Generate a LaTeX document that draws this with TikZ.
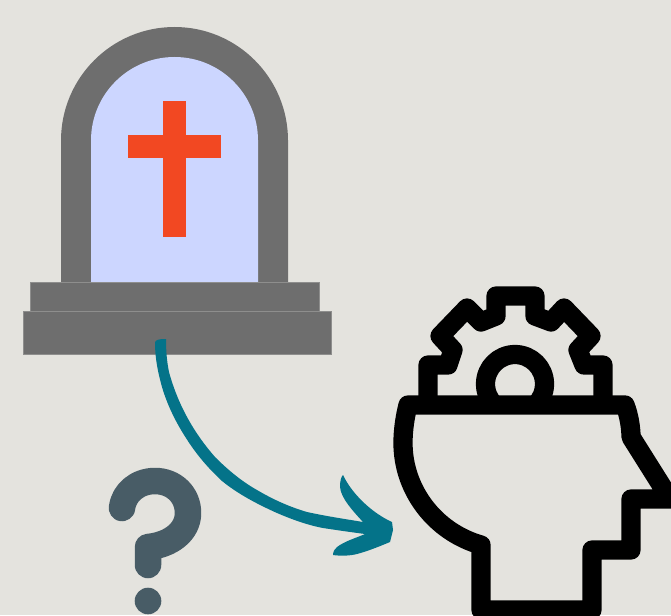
\documentclass[tikz,border=0pt]{standalone}
\usepackage{tikz}
\usetikzlibrary{positioning}
\definecolor{paper}{HTML}{E4E3DE}
\definecolor{stone}{HTML}{6E6E6E}
\definecolor{stoneedge}{HTML}{8E8E8D}
\definecolor{slab}{HTML}{CCD6FF}
\definecolor{crossred}{HTML}{F24822}
\definecolor{arrowteal}{HTML}{047389}
\definecolor{markgrey}{HTML}{485C66}
\tikzset{
	outline/.style={draw=black, line width=0.385cm, line join=round, line cap=round},
	qmark/.style={draw=markgrey, line width=0.53cm, line join=round, line cap=round},
	tier/.style={fill=stone, draw=stoneedge, line width=0.012cm}
}

\begin{document}
\begin{tikzpicture}[x=0.02cm, y=-0.02cm]
	% Background
	\fill[paper] (0,0) rectangle (671,615);
	\useasboundingbox (0,0) rectangle (671,615);

	% Draw the gravestone
	\begin{scope}
		\fill[stone] (61,282) -- (61,140.5) .. controls (61,77.8) and (111.8,27) .. (174.5,27) .. controls (237.2,27) and (288,77.8) .. (288,140.5) -- (288,282) -- cycle;
		\fill[slab] (91,282) -- (91,140.5) .. controls (91,94.4) and (128.4,57) .. (174.5,57) .. controls (220.6,57) and (258,94.4) .. (258,140.5) -- (258,282) -- cycle;
		\filldraw[tier] (30.5,282) rectangle (319,311);
		\filldraw[tier] (23,311) rectangle (331,354.5);

		% Draw the cross
		\fill[crossred] (163,101) rectangle (186,237);
		\fill[crossred] (128,135) rectangle (221,158);
	\end{scope}

	% Draw the curved arrow
	\coordinate (arrowstart) at (155,343);
	\coordinate (arrowtip) at (393,530);
	\fill[arrowteal] (arrowstart) .. controls (155,340) and (158,339) .. (166,339)
		.. controls (166,352) and (167,362) .. (169,372)
		.. controls (178,405) and (194,433) .. (215,457)
		.. controls (227,469) and (241,481) .. (257,490)
		.. controls (274,500) and (290,507) .. (307,512)
		.. controls (325,516) and (345,519) .. (363,522)
		.. controls (352,510) and (341,498) .. (340,487)
		.. controls (340,481) and (341,477) .. (343,475)
		.. controls (352,494) and (372,513) .. (392,522)
		-- (arrowtip) -- (390,542)
		.. controls (378,547) and (368,551) .. (357,554)
		.. controls (349,556) and (340,556) .. (333,555)
		.. controls (333,551) and (335,549) .. (337,547)
		.. controls (345,541) and (356,538) .. (365,534)
		.. controls (350,532) and (336,530) .. (323,528)
		.. controls (307,525) and (291,519) .. (277,513)
		.. controls (257,504) and (238,494) .. (222,481)
		.. controls (208,468) and (196,454) .. (186,438)
		.. controls (175,421) and (167,404) .. (162,387)
		.. controls (158,373) and (155,358) .. (arrowstart)
		-- cycle;

	% Draw the question mark
	\draw[qmark] (122,508) .. controls (124,492) and (138,481) .. (155,481)
		.. controls (174,481) and (188,495) .. (188,513)
		.. controls (188,532) and (170,545) .. (148,547) -- (148,565);
	\fill[markgrey] (148,601) circle (13.3);

	% Draw the gear
	\begin{scope}
		\draw[outline] (428,400) -- (428,365) -- (448,365) -- (453,350) -- (440,336) -- (467,308) -- (481,322) -- (496,316) -- (496,296) -- (535,296) -- (535,316) -- (551,322) -- (564,308) -- (591,336) -- (578,350) -- (584,365) -- (603,365) -- (603,400);
		\begin{scope}
			\clip (470,340) rectangle (560,405);
			\draw[outline] (515,384) circle (29.5);
		\end{scope}
	\end{scope}

	% Draw the head
	\draw[outline] (408,405) -- (625,405) .. controls (629,415) and (631,428) .. (631,437) -- (670,499) -- (631,499) -- (631,550) -- (592,550) -- (592,610) -- (481,610) -- (481,545) .. controls (435,532) and (403,490) .. (403,443) .. controls (403,430) and (405,417) .. (408,405) -- cycle;
\end{tikzpicture}
\end{document}
